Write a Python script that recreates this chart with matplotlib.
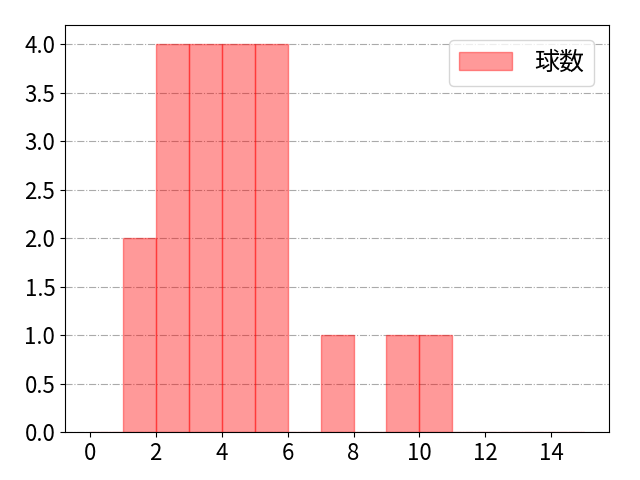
import matplotlib
matplotlib.use("Agg")
import matplotlib.pyplot as plt

plt.rcParams['font.family'] = ['Noto Sans CJK JP', 'DejaVu Sans']

bin_left = list(range(0, 15))
counts = [0, 2, 4, 4, 4, 4, 0, 1, 0, 1, 1, 0, 0, 0, 0]
label = "球数"

fig, ax = plt.subplots(figsize=(6.4, 4.8), dpi=100)
ax.bar(bin_left, counts, width=1, align='edge', color='red', alpha=0.4,
       edgecolor='red', linewidth=1, label=label)
ax.set_xlim(-0.75, 15.75)
ax.set_xticks(range(0, 15, 2))
ax.yaxis.grid(True, linestyle='-.', color='#aaaaaa')
ax.set_axisbelow(True)
ax.tick_params(labelsize=16)
ax.legend(fontsize=18, loc='upper right', handlelength=2.1, handletextpad=0.9,
          borderaxespad=0.6)
fig.subplots_adjust(left=0.1016, right=0.9516, top=0.948, bottom=0.1)
fig.savefig("out.png")
